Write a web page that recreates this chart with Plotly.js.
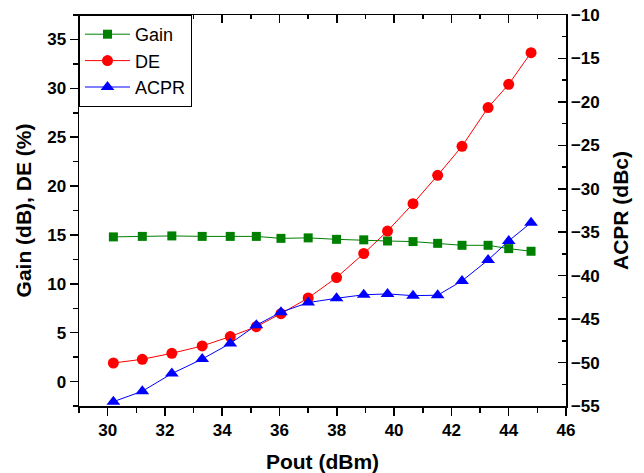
<!DOCTYPE html>
<html>
<head>
<meta charset="utf-8">
<script src="https://cdn.plot.ly/plotly-3.0.1.min.js"></script>
<style>html,body{margin:0;padding:0;background:#fff;}#chart{width:644px;height:473px;}</style>
</head>
<body>
<div id="chart"></div>
<script>
// Pout (dBm)
const pout = [30.2, 31.21, 32.24, 33.3, 34.28, 35.19, 36.05, 37.0, 37.99, 38.94, 39.77, 40.66, 41.52, 42.37, 43.28, 44.0, 44.78];
// Gain (dB)
const gain = [14.8, 14.85, 14.9, 14.85, 14.85, 14.85, 14.65, 14.7, 14.55, 14.5, 14.38, 14.32, 14.14, 13.94, 13.94, 13.6, 13.33];
// DE (%)
const de = [1.9, 2.28, 2.89, 3.64, 4.6, 5.62, 6.95, 8.55, 10.64, 13.1, 15.4, 18.2, 21.1, 24.07, 28.03, 30.41, 33.65];
// ACPR (dBc)
const acpr = [-54.5, -53.3, -51.27, -49.6, -47.8, -45.7, -44.2, -43.1, -42.6, -42.2, -42.1, -42.3, -42.25, -40.6, -38.2, -36.0, -33.9];

const tickFont = {family: 'Arial, Liberation Sans, sans-serif', size: 17, color: '#000', weight: 'bold'};
const titleFont = {family: 'Arial, Liberation Sans, sans-serif', size: 21, color: '#000', weight: 'bold'};

const traces = [
  {x: pout, y: gain, name: 'Gain', type: 'scatter', mode: 'lines+markers',
   line: {color: '#008000', width: 1}, marker: {symbol: 'square', size: 9, color: '#008000'}, xaxis: 'x', yaxis: 'y'},
  {x: pout, y: de, name: 'DE', type: 'scatter', mode: 'lines+markers',
   line: {color: '#FF0000', width: 1}, marker: {symbol: 'circle', size: 11, color: '#FF0000'}, xaxis: 'x', yaxis: 'y'},
  {x: pout, y: acpr, name: 'ACPR', type: 'scatter', mode: 'lines+markers',
   line: {color: '#0000FF', width: 1}, marker: {symbol: 'triangle-up', size: 12, color: '#0000FF'}, xaxis: 'x', yaxis: 'y2'},
  {x: [], y: [], type: 'scatter', mode: 'markers', showlegend: false, hoverinfo: 'skip', xaxis: 'x2', yaxis: 'y'}
];

const layout = {
  width: 644, height: 473,
  margin: {l: 79, r: 78, t: 15, b: 67, pad: 0},
  paper_bgcolor: '#fff', plot_bgcolor: '#fff',
  showlegend: true,
  legend: {x: 0, y: 1, xanchor: 'left', yanchor: 'top', bgcolor: '#fff', bordercolor: '#000', borderwidth: 1,
           itemwidth: 45,
           font: {family: 'Arial, Liberation Sans, sans-serif', size: 18, color: '#000'}, tracegroupgap: 0},
  xaxis: {range: [29, 46], tick0: 30, dtick: 2, ticks: 'outside', ticklen: 8, tickwidth: 1.5, tickcolor: '#000',
          minor: {dtick: 1, tick0: 29, ticks: 'outside', ticklen: 5, tickwidth: 1.5, tickcolor: '#000'},
          showline: true, linecolor: '#000', linewidth: 1.5, showgrid: false, zeroline: false,
          tickfont: tickFont, automargin: false,
          title: {text: 'Pout (dBm)', font: titleFont, standoff: 18}},
  xaxis2: {range: [29, 46], overlaying: 'x', side: 'top', anchor: 'y', tick0: 30, dtick: 2, ticks: 'inside', ticklen: 8, tickwidth: 1.5, tickcolor: '#000',
           minor: {dtick: 1, tick0: 29, ticks: 'inside', ticklen: 4, tickwidth: 1.5, tickcolor: '#000'},
           showline: true, linecolor: '#000', linewidth: 1.5, showgrid: false, zeroline: false, showticklabels: false},
  yaxis: {range: [-2.5, 37.5], tick0: 0, dtick: 5, ticks: 'outside', ticklen: 8, tickwidth: 1.5, tickcolor: '#000',
          minor: {dtick: 2.5, tick0: 0, ticks: 'outside', ticklen: 5, tickwidth: 1.5, tickcolor: '#000'},
          showline: true, linecolor: '#000', linewidth: 1.5, showgrid: false, zeroline: false,
          tickfont: tickFont, automargin: false,
          title: {text: 'Gain (dB), DE (%)', font: titleFont, standoff: 10}},
  yaxis2: {range: [-55, -10], overlaying: 'y', side: 'right', anchor: 'x', tick0: -10, dtick: 5, ticks: 'inside', ticklen: 8, tickwidth: 1.5, tickcolor: '#000',
           minor: {dtick: 2.5, tick0: -10, ticks: 'inside', ticklen: 4, tickwidth: 1.5, tickcolor: '#000'},
           showline: true, linecolor: '#000', linewidth: 1.5, showgrid: false, zeroline: false,
           tickfont: tickFont, automargin: false,
           title: {text: 'ACPR (dBc)', font: titleFont, standoff: 14}}
};

Plotly.newPlot('chart', traces, layout, {displayModeBar: false, staticPlot: true});
</script>
</body>
</html>
